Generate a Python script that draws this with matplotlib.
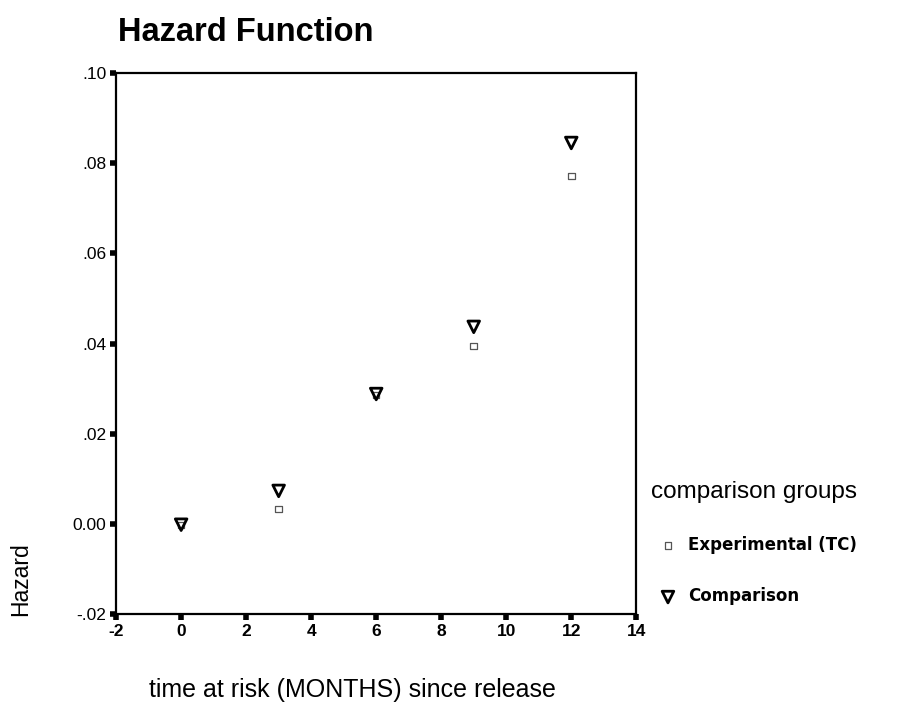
import matplotlib
matplotlib.use("Agg")
import matplotlib.pyplot as plt

months = [0, 3, 6, 9, 12]
hazard_experimental = [-0.0003, 0.0033, 0.0286, 0.0395, 0.0772]
hazard_comparison = [-0.0002, 0.0073, 0.0288, 0.0437, 0.0845]

x_ticks = [-2, 0, 2, 4, 6, 8, 10, 12, 14]
x_tick_labels = ["-2", "0", "2", "4", "6", "8", "10", "12", "14"]
y_ticks = [-0.02, 0.0, 0.02, 0.04, 0.06, 0.08, 0.10]
y_tick_labels = ["-.02", "0.00", ".02", ".04", ".06", ".08", ".10"]

plt.rcParams["font.family"] = ["Liberation Sans", "DejaVu Sans"]

fig = plt.figure(figsize=(9, 7.24), dpi=100)
ax = fig.add_axes([0.129, 0.152, 0.578, 0.747])

ax.scatter(months, hazard_experimental, marker="s", s=22, facecolors="none",
           edgecolors="#555555", linewidths=0.9, label="Experimental (TC)", zorder=3)
ax.scatter(months, hazard_comparison, marker="v", s=70, facecolors="none",
           edgecolors="black", linewidths=2.0, label="Comparison", zorder=3)

ax.set_xlim(-2, 14)
ax.set_ylim(-0.02, 0.10)
ax.set_xticks(x_ticks)
ax.set_xticklabels(x_tick_labels, fontsize=12.5, fontweight="bold")
ax.set_yticks(y_ticks)
ax.set_yticklabels(y_tick_labels, fontsize=12.5)
ax.tick_params(direction="out", length=4, width=4, color="black", pad=3)
for spine in ax.spines.values():
    spine.set_linewidth(1.6)

fig.text(0.131, 0.955, "Hazard Function", fontsize=23.5, fontweight="bold", ha="left", va="center")
fig.text(0.023, 0.2, "Hazard", fontsize=16.5, rotation=90, ha="center", va="center")
fig.text(0.166, 0.047, "time at risk (MONTHS) since release", fontsize=18, ha="left", va="center")

leg = ax.legend(loc="upper left", bbox_to_anchor=(1.0, 0.274), frameon=False,
                title="comparison groups", title_fontsize=17.5,
                prop={"size": 12, "weight": "bold", "family": "DejaVu Sans"},
                labelspacing=2.0, handletextpad=0.2, alignment="left")

fig.savefig("out.png", dpi=100)
